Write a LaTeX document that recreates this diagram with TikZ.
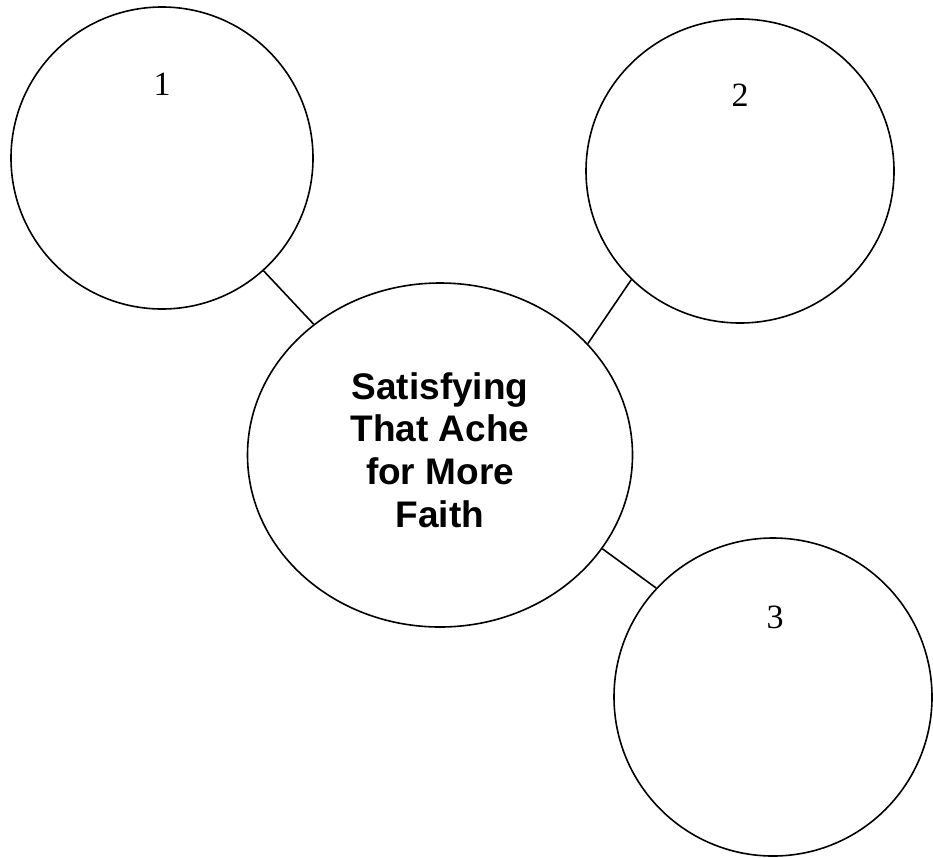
\documentclass[tikz,border=0pt]{standalone}
\usepackage{fontspec}
\setmainfont{Liberation Serif}
\newfontfamily\arialbold{Liberation Sans}[BoldFont={Liberation Sans Bold}]
\usetikzlibrary{shapes.geometric}
\tikzset{
  bubble/.style={draw=black, line width=1.6pt, ellipse, inner sep=0pt},
  numlabel/.style={font=\fontsize{34}{40}\selectfont, inner sep=0pt},
  centertext/.style={font=\arialbold\bfseries\fontsize{37}{42.7}\selectfont, align=center, inner sep=0pt},
  link/.style={draw=black, line width=1.6pt}
}
\begin{document}
\begin{tikzpicture}[x=1pt,y=-1pt]
\useasboundingbox (0,0) rectangle (933,857);
\node[bubble, minimum width=302pt, minimum height=302pt] (c1) at (162,158) {};
\node[bubble, minimum width=308pt, minimum height=304pt] (c2) at (740,171) {};
\node[bubble, minimum width=385pt, minimum height=344pt] (ctr) at (440,455) {};
\node[bubble, minimum width=318pt, minimum height=318pt] (c3) at (773,697) {};
\node[numlabel] (l1) at (162,84) {1};
\node[numlabel] (l2) at (740,95) {2};
\node[numlabel] (l3) at (775,617) {3};
\node[centertext] (ctrtext) at (440,450) {Satisfying\\That Ache\\for More\\Faith};
\draw[link] (c1.-48.5) -- (ctr.134.1);
\draw[link] (c2.225.8) -- (ctr.37.5);
\draw[link] (ctr.-30.2) -- (c3.137.3);
\end{tikzpicture}
\end{document}
